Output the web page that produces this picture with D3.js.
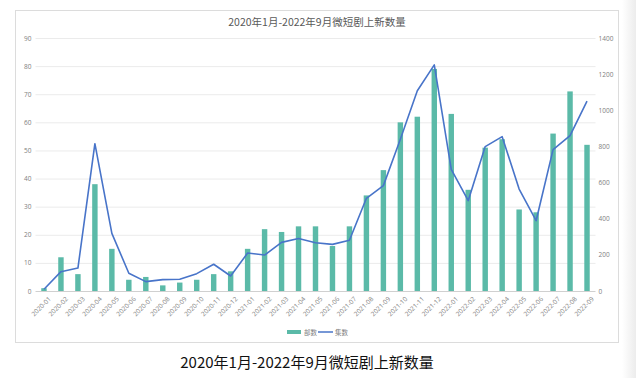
<!DOCTYPE html>
<html>
<head>
<meta charset="utf-8">
<script src="https://cdn.jsdelivr.net/npm/d3@7"></script>
<style>
  body { margin: 0; background: #fff; }
  text { font-family: "Noto Sans CJK SC", "Open Sans", sans-serif; }
</style>
</head>
<body>
<div id="chart"></div>
<script>
//////////
// Data //
//////////
var months = ["2020-01","2020-02","2020-03","2020-04","2020-05","2020-06","2020-07","2020-08","2020-09","2020-10","2020-11","2020-12",
              "2021-01","2021-02","2021-03","2021-04","2021-05","2021-06","2021-07","2021-08","2021-09","2021-10","2021-11","2021-12",
              "2022-01","2022-02","2022-03","2022-04","2022-05","2022-06","2022-07","2022-08","2022-09"];
// 部数 (left axis)
var shows = [1, 12, 6, 38, 15, 4, 5, 2, 3, 4, 6, 7,
             15, 22, 21, 23, 23, 16, 23, 34, 43, 60, 62, 79,
             63, 36, 51, 54, 29, 28, 56, 71, 52];
// 集数 (right axis)
var episodes = [10, 107, 127, 815, 319, 98, 52, 63, 65, 96, 148, 83,
                210, 199, 269, 290, 267, 258, 281, 513, 583, 840, 1108, 1251,
                673, 500, 799, 854, 564, 389, 782, 860, 1051];
var leftTicks = [0, 10, 20, 30, 40, 50, 60, 70, 80, 90];
var rightTicks = [0, 200, 400, 600, 800, 1000, 1200, 1400];
var title = "2020年1月-2022年9月微短剧上新数量";
var seriesNames = ["部数", "集数"];

var barColor = "#5bbaa8", lineColor = "#4874c9";

var W = 636, H = 378;
var svg = d3.select("#chart").append("svg").attr("width", W).attr("height", H);

// faint shadow on the right edge
var grad = svg.append("defs").append("linearGradient").attr("id", "shade");
grad.append("stop").attr("offset", "0").attr("stop-color", "#fff");
grad.append("stop").attr("offset", "1").attr("stop-color", "#ececec");
svg.append("rect").attr("x", 622).attr("y", 0).attr("width", 14).attr("height", H).attr("fill", "url(#shade)");

// chart frame
svg.append("rect").attr("x", 15.5).attr("y", 10.5).attr("width", 603).attr("height", 332)
   .attr("fill", "#fff").attr("stroke", "#dcdcdc");

// plot area
var x0 = 35.5, x1 = 595.5, yTop = 38, yBot = 291;

var xScale = d3.scaleBand().domain(months).range([x0, x1]).paddingInner(0.68).paddingOuter(0.34);
var yLeft = d3.scaleLinear().domain([0, 90]).range([yBot, yTop]);
var yRight = d3.scaleLinear().domain([0, 1400]).range([yBot, yTop]);

// gridlines
svg.append("g").selectAll("line").data(leftTicks).enter().append("line")
   .attr("x1", x0).attr("x2", x1)
   .attr("y1", function(d){ return yLeft(d) + 0.5; }).attr("y2", function(d){ return yLeft(d) + 0.5; })
   .attr("stroke", function(d){ return d === 0 ? "#d0d0d0" : "#ebebeb"; });

// left axis
var leftAxis = d3.axisLeft(yLeft).tickValues(leftTicks).tickSize(0).tickPadding(4);
var gl = svg.append("g").attr("transform", "translate(" + x0 + ",0)").call(leftAxis);
gl.select(".domain").remove();
gl.selectAll("text").attr("fill", "#808080").style("font-size", "6.5px").style("font-family", "Open Sans, sans-serif");

// right axis
var rightAxis = d3.axisRight(yRight).tickValues(rightTicks).tickFormat(d3.format("d")).tickSize(0).tickPadding(3);
var gr = svg.append("g").attr("transform", "translate(" + x1 + ",0)").call(rightAxis);
gr.select(".domain").remove();
gr.selectAll("text").attr("fill", "#808080").style("font-size", "6.5px").style("font-family", "Open Sans, sans-serif");

// x axis
var bottomAxis = d3.axisBottom(xScale).tickSize(0).tickPadding(4);
var gb = svg.append("g").attr("transform", "translate(0," + yBot + ")").call(bottomAxis);
gb.select(".domain").remove();
gb.selectAll("text").attr("fill", "#808080").style("font-size", "6.5px").style("font-family", "Open Sans, sans-serif")
  .attr("text-anchor", "end").attr("dy", "0.35em")
  .attr("transform", "translate(3,4) rotate(-45)");

// bars
svg.append("g").selectAll("rect").data(shows).enter().append("rect")
   .attr("x", function(d, i){ return xScale(months[i]); })
   .attr("width", xScale.bandwidth())
   .attr("y", function(d){ return yLeft(d); })
   .attr("height", function(d){ return yBot - yLeft(d); })
   .attr("fill", barColor);

// line
var line = d3.line()
   .x(function(d, i){ return xScale(months[i]) + xScale.bandwidth() / 2; })
   .y(function(d){ return yRight(d); });
svg.append("path").datum(episodes).attr("d", line)
   .attr("fill", "none").attr("stroke", lineColor).attr("stroke-width", 1.6).attr("stroke-linejoin", "round");

// title
svg.append("text").attr("x", 317).attr("y", 26).attr("text-anchor", "middle")
   .attr("fill", "#595959").style("font-size", "10.5px").text(title);

// legend
var lg = svg.append("g").attr("transform", "translate(287,332)");
lg.append("rect").attr("x", 0).attr("y", -2).attr("width", 14).attr("height", 4).attr("fill", barColor);
lg.append("text").attr("x", 17).attr("y", 2.5).attr("fill", "#808080").style("font-size", "6.5px").text(seriesNames[0]);
lg.append("line").attr("x1", 31).attr("x2", 46).attr("y1", 0).attr("y2", 0).attr("stroke", lineColor).attr("stroke-width", 1.5);
lg.append("text").attr("x", 48).attr("y", 2.5).attr("fill", "#808080").style("font-size", "6.5px").text(seriesNames[1]);

// caption under the chart
svg.append("text").attr("x", 307).attr("y", 368).attr("text-anchor", "middle")
   .attr("fill", "#111").style("font-size", "15px").text(title);
</script>
</body>
</html>
